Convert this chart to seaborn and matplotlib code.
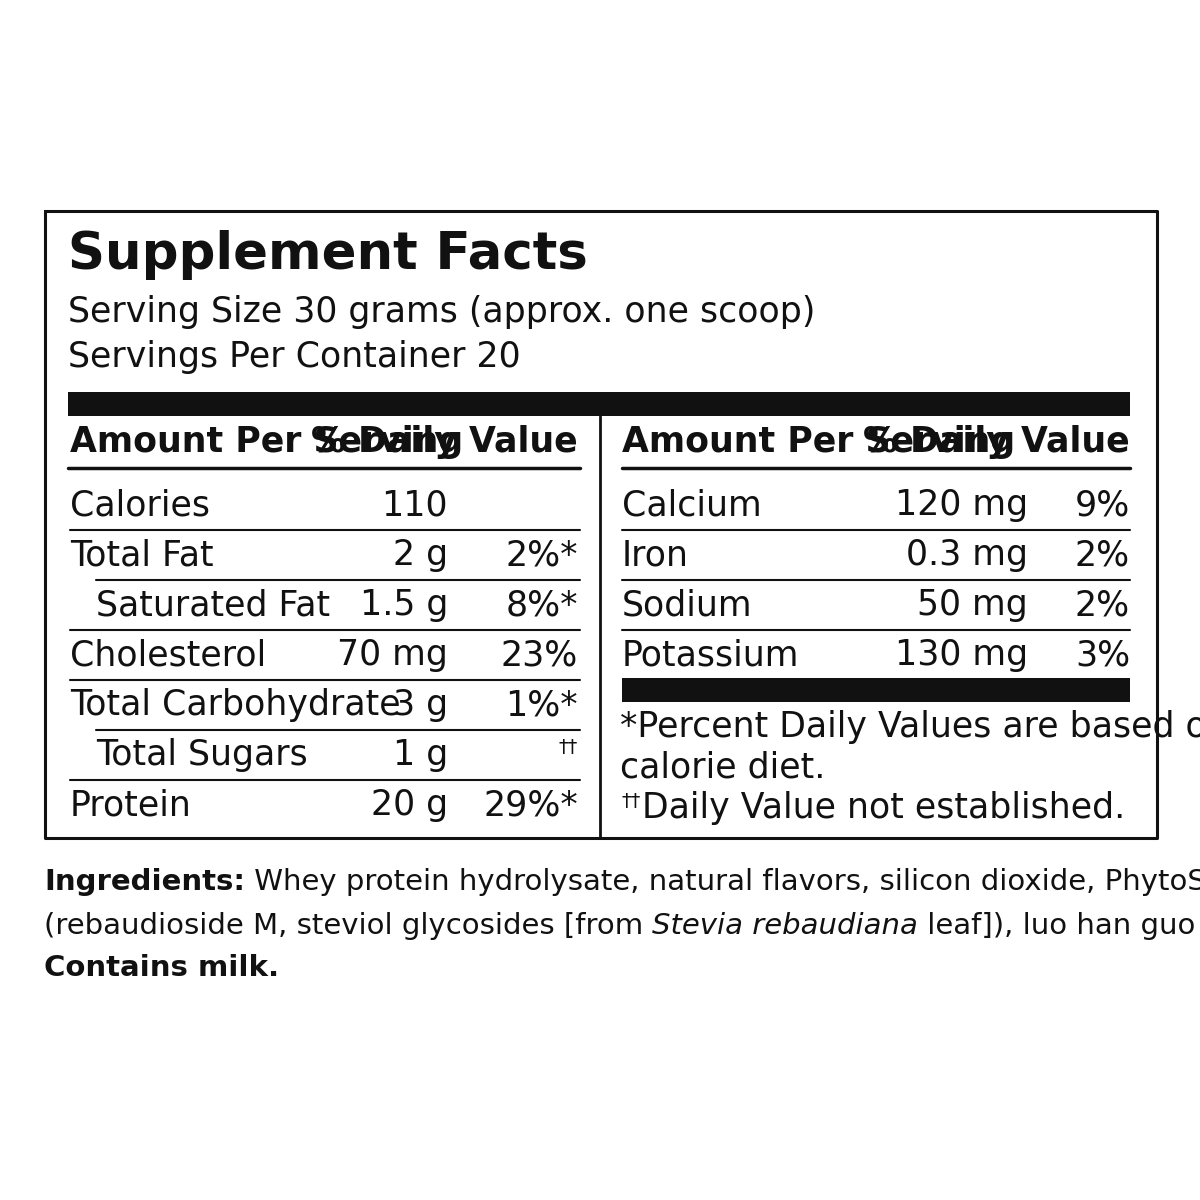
import matplotlib
matplotlib.use("Agg")
import matplotlib.pyplot as plt
import seaborn as sns

sns.set_theme(style="white")
FAM = ["Liberation Sans Narrow", "DejaVu Sans"]
plt.rcParams["font.family"] = FAM

# ── Data ──────────────────────────────────────────────────────────────────
left_names = ["Calories", "Total Fat", "Saturated Fat", "Cholesterol",
              "Total Carbohydrate", "Total Sugars", "Protein"]
left_indent = [False, False, True, False, False, True, False]
left_amounts = ["110", "2 g", "1.5 g", "70 mg", "3 g", "1 g", "20 g"]
left_dv = ["", "2%*", "8%*", "23%", "1%*", "††", "29%*"]

right_names = ["Calcium", "Iron", "Sodium", "Potassium"]
right_amounts = ["120 mg", "0.3 mg", "50 mg", "130 mg"]
right_dv = ["9%", "2%", "2%", "3%"]

footnotes = ["*Percent Daily Values are based on a 2,000", "calorie diet.",
             "††Daily Value not established."]

fig = plt.figure(figsize=(12, 12), dpi=100)
ax = fig.add_axes([0, 0, 1, 1])
ax.set_xlim(0, 1200)
ax.set_ylim(1200, 0)
ax.axis("off")

K = "#111111"
FS = 25

def txt(x, y, s, ha="left", size=FS, weight="normal", style="normal", fam=FAM):
    return ax.text(x, y, s, ha=ha, va="center", fontsize=size, color=K,
                   fontweight=weight, fontstyle=style, family=fam)

# box
ax.plot([45, 1157, 1157, 45, 45], [211, 211, 838, 838, 211], color=K, lw=2.2)
txt(68, 255, "Supplement Facts", size=37, weight="bold", fam=["DejaVu Sans"])
txt(68, 312, "Serving Size 30 grams (approx. one scoop)")
txt(68, 357, "Servings Per Container 20")
ax.fill_between([68, 1130], 392, 416, color=K, lw=0)
ax.plot([600, 600], [416, 838], color=K, lw=2)

txt(70, 442, "Amount Per Serving", weight="bold")
txt(578, 442, "% Daily Value", ha="right", weight="bold")
txt(622, 442, "Amount Per Serving", weight="bold")
txt(1130, 442, "% Daily Value", ha="right", weight="bold")

ax.plot([68, 580], [468, 468], color=K, lw=2.5)
ax.plot([622, 1130], [468, 468], color=K, lw=2.5)

y0, dy = 505, 50
for i, (n, ind, a, d) in enumerate(zip(left_names, left_indent, left_amounts, left_dv)):
    y = y0 + i * dy
    x = 96 if ind else 70
    if i > 0:
        ax.plot([x, 580], [y - 25, y - 25], color=K, lw=1.5)
    txt(x, y, n)
    txt(448, y, a, ha="right")
    if d == "††":
        txt(578, y - 8, d, ha="right", size=14)
    else:
        txt(578, y, d, ha="right")

for i, (n, a, d) in enumerate(zip(right_names, right_amounts, right_dv)):
    y = y0 + i * dy
    if i > 0:
        ax.plot([622, 1130], [y - 25, y - 25], color=K, lw=1.5)
    txt(622, y, n)
    txt(1028, y, a, ha="right")
    txt(1130, y, d, ha="right")
ax.fill_between([622, 1130], 678, 702, color=K, lw=0)

txt(620, 727, footnotes[0])
txt(620, 768, footnotes[1])
t = txt(622, 802, "††", size=14)
txt(642, 808, footnotes[2][2:])

# ingredients with mixed styles
fig.canvas.draw()
r = fig.canvas.get_renderer()
inv = ax.transData.inverted()

def seq(x, y, parts):
    for s, w, st in parts:
        t = txt(x, y, s, size=21, weight=w, style=st)
        bb = t.get_window_extent(r)
        x = inv.transform((bb.x1, bb.y0))[0]

seq(44, 882, [("Ingredients:", "bold", "normal"),
              (" Whey protein hydrolysate, natural flavors, silicon dioxide, PhytoSweet", "normal", "normal")])
t = ax.texts[-1]
bb = t.get_window_extent(r)
xr = inv.transform((bb.x1, bb.y0))[0]
txt(xr + 1, 874, "®", size=11)
txt(xr + 13, 882, " blend", size=21)
seq(44, 926, [("(rebaudioside M, steviol glycosides [from ", "normal", "normal"),
              ("Stevia rebaudiana", "normal", "italic"),
              (" leaf]), luo han guo extract (fruit).", "normal", "normal")])
seq(44, 968, [("Contains milk.", "bold", "normal")])

fig.savefig("out.png", dpi=100, facecolor="white")
